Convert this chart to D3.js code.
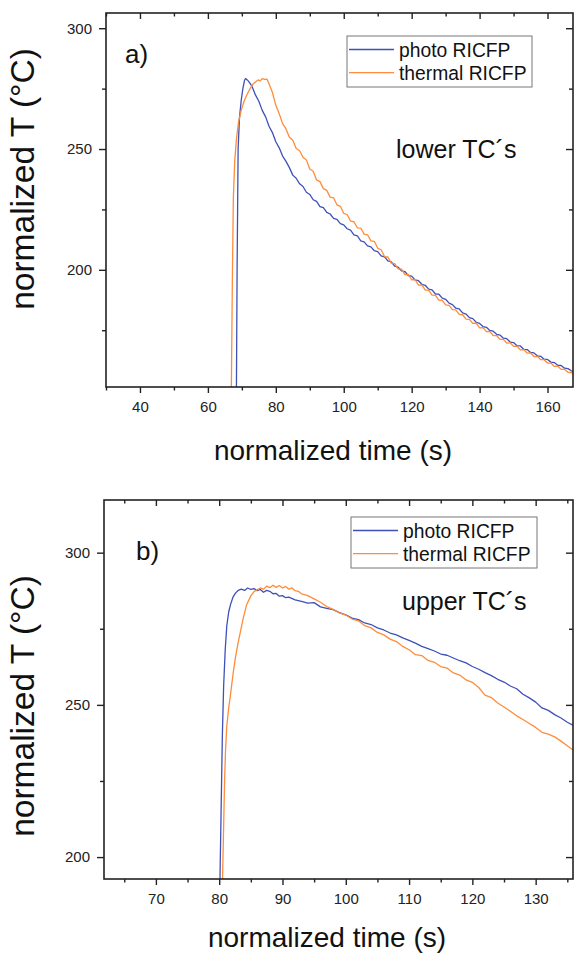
<!DOCTYPE html>
<html>
<head>
<meta charset="utf-8">
<script src="https://cdn.jsdelivr.net/npm/d3@7/dist/d3.min.js"></script>
<style>
  body { margin: 0; background: #fff; }
  svg { display: block; font-family: "Liberation Sans", Arial, sans-serif; }
</style>
</head>
<body>
<div id="chart"></div>
<script>
// two stacked panels: lower / upper thermocouples, photo vs thermal RICFP

const seriesNames = ["photo RICFP", "thermal RICFP"];
const seriesColors = ["#3f51b8", "#ff8c3c"];

// panel a) lower TC's  [time (s), T (°C)]
const photoLower = [
  [68.4,150],[68.6,200],[68.9,250],[69.3,263],[69.8,270],[70.3,275],[70.8,278.5],[71.1,279.2],[71.6,278.6],
  [72,278.0],[73,275.9],[74,272.4],[75,269.8],[76,266.0],[77,263.3],[78,259.4],[79,256.8],[80,253.0],
  [81,250.5],[82,247.1],[83,244.9],[84,242.3],[85,239.2],[86,237.9],[87,235.6],[88,234.5],[89,232.1],
  [90,231.2],[91,229.0],[92,228.3],[93,226.2],[94,225.7],[95,223.8],[96,223.1],[97,221.3],[98,220.9],
  [99,219.1],[100,218.6],[101,217.0],[102,216.4],[103,214.5],[104,214.1],[105,212.0],[106,211.6],
  [107,209.9],[108,209.5],[109,207.9],[110,207.5],[111,205.8],[112,205.4],[113,203.7],[114,203.3],
  [115,201.5],[116,201.1],[117,199.6],[118,199.3],[119,197.6],[120,197.4],[121,195.8],[122,195.5],
  [123,194.0],[124,193.6],[125,192.0],[126,191.7],[127,190.0],[128,189.9],[129,188.3],[130,187.8],
  [131,186.2],[132,185.6],[133,184.1],[134,183.8],[135,182.2],[136,181.7],[137,180.2],[138,179.8],
  [139,178.3],[140,177.8],[141,176.5],[142,176.2],[143,174.9],[144,174.6],[145,173.3],[146,173.0],
  [147,171.7],[148,171.5],[149,170.1],[150,169.9],[151,168.6],[152,168.5],[153,167.1],[154,167.0],
  [155,165.8],[156,165.6],[157,164.4],[158,164.2],[159,163.0],[160,162.9],[161,161.8],[162,161.6],
  [163,160.5],[164,160.4],[165,159.3],[166,159.1],[167,158.2],[168,157.8]
];

const thermalLower = [
  [66.9,150],[67.2,195],[67.5,230],[67.9,245],[68.4,254],[69.0,261],[69.8,266],[70.7,270],[71.6,272.8],
  [72.5,275.2],[73.3,277.0],[74.1,277.8],[74.8,278.6],[75.4,278.2],[76.0,279.1],[76.7,278.8],[77.4,278.9],
  [78,277.0],[79,273.4],[80,268.1],[81,264.6],[82,260.5],[83,258.3],[84,254.9],[85,253.6],[86,250.2],
  [87,249.3],[88,246.6],[89,245.5],[90,241.7],[91,240.8],[92,237.2],[93,236.5],[94,233.6],[95,232.9],
  [96,230.1],[97,229.8],[98,226.9],[99,226.3],[100,223.4],[101,222.9],[102,220.2],[103,219.9],
  [104,217.4],[105,217.3],[106,214.8],[107,214.5],[108,212.0],[109,211.8],[110,208.9],[111,208.3],
  [112,205.5],[113,205.3],[114,202.8],[115,202.6],[116,200.4],[117,200.3],[118,198.0],[119,198.1],
  [120,195.9],[121,196.0],[122,193.7],[123,193.8],[124,191.6],[125,191.6],[126,189.5],[127,189.4],
  [128,187.5],[129,187.4],[130,185.5],[131,185.3],[132,183.5],[133,183.4],[134,181.6],[135,181.4],
  [136,179.6],[137,179.5],[138,177.8],[139,177.9],[140,176.0],[141,176.1],[142,174.4],[143,174.5],
  [144,172.8],[145,172.8],[146,171.2],[147,171.2],[148,169.7],[149,169.8],[150,168.3],[151,168.4],
  [152,166.9],[153,167.0],[154,165.5],[155,165.6],[156,164.1],[157,164.2],[158,162.8],[159,162.8],
  [160,161.4],[161,161.4],[162,160.0],[163,160.1],[164,158.8],[165,158.8],[166,157.6],[167,157.5],
  [168,156.4]
];

// panel b) upper TC's
const photoUpper = [
  [80.1,190],[80.3,215],[80.5,240],[80.7,256],[80.95,268],[81.2,276],[81.5,280.5],[81.8,283],[82.2,285.5],
  [82.6,286.8],[83.0,287.6],[83.5,288.0],[84,287.6],[84.5,288.4],[85,287.9],[85.5,288.2],[86,287.5],
  [86.5,287.9],[87,287.0],[87.5,287.6],[88,287.3],[88.5,286.5],[89,286.6],[89.5,285.7],[90,285.9],
  [90.5,285.2],[91,285.4],[92,284.5],[93,284.0],[94,283.4],[95,283.6],[96,282.2],[97,281.7],[98,281.3],
  [99,280.3],[100,279.6],[101,278.5],[102,278.0],[103,276.9],[104,276.4],[105,275.3],[106,274.6],
  [107,273.6],[108,273.0],[109,272.0],[110,271.2],[111,270.3],[112,269.2],[113,268.5],[114,267.7],
  [115,266.7],[116,266.3],[117,265.4],[118,264.5],[119,263.8],[120,262.6],[121,261.7],[122,260.6],
  [123,259.6],[124,258.4],[125,257.5],[126,256.2],[127,255.3],[128,253.5],[129,252.3],[130,250.9],
  [131,249.0],[132,248.2],[133,246.8],[134,245.7],[135,244.3],[136,243.2]
];

const thermalUpper = [
  [80.5,190],[80.7,210],[80.85,225],[81.0,235],[81.2,243],[81.5,249],[81.7,252],[82.0,257],[82.2,260.3],
  [82.6,266],[83.0,270.5],[83.3,273.5],[83.8,278.5],[84.35,283],[85.0,285.8],[85.5,287.2],[86,287.8],
  [86.5,288.4],[87,288.0],[87.5,289.0],[88,288.5],[88.5,289.3],[89,288.6],[89.5,289.2],[90,288.4],
  [90.5,288.9],[91,288.0],[91.5,288.4],[92,287.5],[92.5,287.3],[93,286.5],[94,285.9],[95,284.8],
  [96,283.7],[97,282.3],[98,281.4],[99,280.2],[100,279.5],[101,278.2],[102,277.6],[103,276.0],
  [104,275.3],[105,273.8],[106,273.0],[107,271.6],[108,270.8],[109,269.2],[110,268.1],[111,266.5],
  [112,266.2],[113,264.6],[114,264.0],[115,262.6],[116,262.1],[117,260.5],[118,259.8],[119,258.2],
  [120,257.4],[121,255.7],[122,253.2],[123,252.4],[124,250.6],[125,249.3],[126,247.9],[127,246.4],
  [128,245.2],[129,243.9],[130,242.6],[131,241.0],[132,240.4],[133,239.5],[134,238.1],[135,236.6],
  [136,235.0]
];

// axis ticks
const lowerXMajor = [40, 60, 80, 100, 120, 140, 160];
const lowerXMinor = [30, 50, 70, 90, 110, 130, 150];
const lowerYMajor = [200, 250, 300];
const lowerYMinor = [175, 225, 275];
const upperXMajor = [70, 80, 90, 100, 110, 120, 130];
const upperXMinor = [65, 75, 85, 95, 105, 115, 125, 135];
const upperYMajor = [200, 250, 300];
const upperYMinor = [225, 275];

const W = 574, H = 957;

const svg = d3.select("#chart")
  .append("svg")
  .attr("width", W)
  .attr("height", H);

const panels = [
  {
    id: "a", tag: "a)", note: "lower TC\u00b4s",
    left: 106, top: 13, right: 573, bottom: 387,
    xDomain: [30, 167.5], yDomain: [151.5, 306.3],
    xMajor: lowerXMajor, xMinor: lowerXMinor, yMajor: lowerYMajor, yMinor: lowerYMinor,
    data: [photoLower, thermalLower],
    tagPos: [125, 63], notePos: [396, 158],
    legend: { x: 347, y: 36, w: 185, h: 51 },
    xTitle: [333, 460], yTitle: [34, 179]
  },
  {
    id: "b", tag: "b)", note: "upper TC\u00b4s",
    left: 104, top: 500, right: 573, bottom: 879,
    xDomain: [61.8, 135.9], yDomain: [192.8, 317.3],
    xMajor: upperXMajor, xMinor: upperXMinor, yMajor: upperYMajor, yMinor: upperYMinor,
    data: [photoUpper, thermalUpper],
    tagPos: [136, 560], notePos: [402, 610],
    legend: { x: 351, y: 517, w: 186, h: 51 },
    xTitle: [327, 947], yTitle: [34, 706]
  }
];

panels.forEach(drawPanel);

function drawPanel(p) {
  const x = d3.scaleLinear().domain(p.xDomain).range([p.left, p.right]);
  const y = d3.scaleLinear().domain(p.yDomain).range([p.bottom, p.top]);
  const g = svg.append("g").attr("class", "panel-" + p.id);

  g.append("clipPath")
    .attr("id", "clip-" + p.id)
    .append("rect")
    .attr("x", p.left)
    .attr("y", p.top)
    .attr("width", p.right - p.left)
    .attr("height", p.bottom - p.top);

  const line = d3.line()
    .x((d) => x(d[0]))
    .y((d) => y(d[1]));

  g.append("g")
    .attr("clip-path", `url(#clip-${p.id})`)
    .selectAll("path")
    .data(p.data)
    .enter()
    .append("path")
    .attr("fill", "none")
    .attr("stroke", (d, i) => seriesColors[i])
    .attr("stroke-width", 1.3)
    .attr("stroke-linejoin", "round")
    .attr("d", line);

  const fmt = d3.format("d");

  // outward ticks with labels: bottom + left
  g.append("g")
    .attr("transform", `translate(0,${p.bottom})`)
    .call(d3.axisBottom(x).tickValues(p.xMajor).tickSize(6).tickPadding(8).tickFormat(fmt));
  g.append("g")
    .attr("transform", `translate(0,${p.bottom})`)
    .call(d3.axisBottom(x).tickValues(p.xMinor).tickSize(3.5).tickFormat(""));
  g.append("g")
    .attr("transform", `translate(${p.left},0)`)
    .call(d3.axisLeft(y).tickValues(p.yMajor).tickSize(7).tickPadding(7).tickFormat(fmt));
  g.append("g")
    .attr("transform", `translate(${p.left},0)`)
    .call(d3.axisLeft(y).tickValues(p.yMinor).tickSize(4).tickFormat(""));

  // inward ticks: top + right
  g.append("g")
    .attr("transform", `translate(0,${p.top})`)
    .call(d3.axisTop(x).tickValues(p.xMajor).tickSize(-6).tickFormat(""));
  g.append("g")
    .attr("transform", `translate(0,${p.top})`)
    .call(d3.axisTop(x).tickValues(p.xMinor).tickSize(-3.5).tickFormat(""));
  g.append("g")
    .attr("transform", `translate(${p.right},0)`)
    .call(d3.axisRight(y).tickValues(p.yMajor).tickSize(-7).tickFormat(""));
  g.append("g")
    .attr("transform", `translate(${p.right},0)`)
    .call(d3.axisRight(y).tickValues(p.yMinor).tickSize(-4).tickFormat(""));

  g.selectAll(".domain").remove();
  g.selectAll(".tick line").attr("stroke", "#222").attr("stroke-width", 1.4);
  g.selectAll(".tick text")
    .attr("fill", "#222")
    .style("font-size", "15px")
    .style("font-family", "'Liberation Sans', Arial, sans-serif");

  g.append("rect")
    .attr("x", p.left)
    .attr("y", p.top)
    .attr("width", p.right - p.left)
    .attr("height", p.bottom - p.top)
    .attr("fill", "none")
    .attr("stroke", "#222")
    .attr("stroke-width", 1.6);

  // legend
  const lg = g.append("g").attr("class", "legend");
  lg.append("rect")
    .attr("x", p.legend.x)
    .attr("y", p.legend.y)
    .attr("width", p.legend.w)
    .attr("height", p.legend.h)
    .attr("fill", "#fff")
    .attr("stroke", "#777")
    .attr("stroke-width", 1);
  seriesNames.forEach((name, i) => {
    const cy = p.legend.y + 13.5 + i * 23.2;
    lg.append("line")
      .attr("x1", p.legend.x + 2)
      .attr("x2", p.legend.x + 47)
      .attr("y1", cy)
      .attr("y2", cy)
      .attr("stroke", seriesColors[i])
      .attr("stroke-width", 1.3);
    lg.append("text")
      .attr("x", p.legend.x + 52)
      .attr("y", cy + 7)
      .style("font-size", "19.3px")
      .attr("fill", "#111")
      .text(name);
  });

  g.append("text")
    .attr("x", p.tagPos[0])
    .attr("y", p.tagPos[1])
    .style("font-size", "26px")
    .attr("fill", "#111")
    .text(p.tag);

  g.append("text")
    .attr("x", p.notePos[0])
    .attr("y", p.notePos[1])
    .style("font-size", "25px")
    .attr("fill", "#111")
    .text(p.note);

  g.append("text")
    .attr("x", p.xTitle[0])
    .attr("y", p.xTitle[1])
    .attr("text-anchor", "middle")
    .style("font-size", "28px")
    .attr("fill", "#111")
    .text("normalized time (s)");

  g.append("text")
    .attr("transform", `translate(${p.yTitle[0]},${p.yTitle[1]}) rotate(-90)`)
    .attr("text-anchor", "middle")
    .style("font-size", "33.5px")
    .attr("fill", "#111")
    .text("normalized T (\u00b0C)");
}
</script>
</body>
</html>
